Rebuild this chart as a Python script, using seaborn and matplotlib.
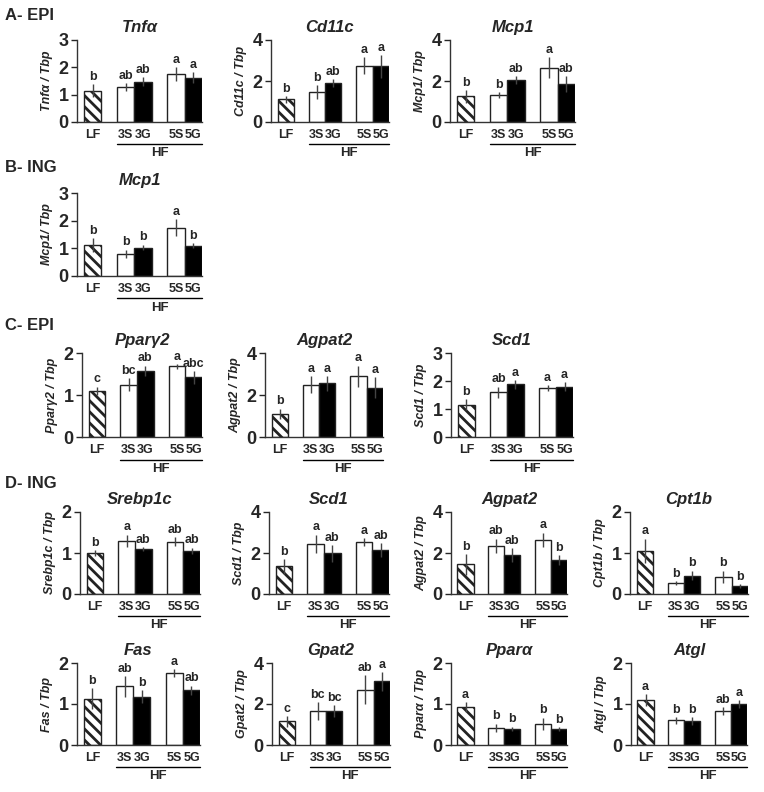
import numpy as np
import matplotlib
matplotlib.use("Agg")
import matplotlib.pyplot as plt
import matplotlib.transforms as mtransforms
import seaborn as sns

sns.set_style("white")
plt.rcParams['font.family'] = ['Liberation Sans', 'DejaVu Sans']
plt.rcParams['hatch.linewidth'] = 2.0

# groups and where they sit on the x axis
groups = ['LF', '3S', '3G', '5S', '5G']
group_x = [0.0, 1.9, 2.9, 4.8, 5.8]

# A - EPI
tnfa_mean = [1.15, 1.28, 1.48, 1.75, 1.62]
tnfa_err = [0.25, 0.15, 0.15, 0.25, 0.20]
tnfa_sig = ['b', 'ab', 'ab', 'a', 'a']

cd11c_mean = [1.10, 1.45, 1.90, 2.75, 2.72]
cd11c_err = [0.15, 0.35, 0.20, 0.40, 0.55]
cd11c_sig = ['b', 'b', 'ab', 'a', 'a']

mcp1_epi_mean = [1.25, 1.30, 2.05, 2.65, 1.85]
mcp1_epi_err = [0.30, 0.15, 0.20, 0.50, 0.40]
mcp1_epi_sig = ['b', 'b', 'ab', 'a', 'ab']

# B - ING
mcp1_ing_mean = [1.12, 0.80, 1.03, 1.75, 1.10]
mcp1_ing_err = [0.25, 0.15, 0.10, 0.30, 0.10]
mcp1_ing_sig = ['b', 'b', 'b', 'a', 'b']

# C - EPI
pparg2_mean = [1.10, 1.25, 1.58, 1.68, 1.42]
pparg2_err = [0.10, 0.15, 0.12, 0.05, 0.15]
pparg2_sig = ['c', 'bc', 'ab', 'a', 'abc']

agpat2_epi_mean = [1.10, 2.50, 2.55, 2.90, 2.35]
agpat2_epi_err = [0.25, 0.40, 0.35, 0.50, 0.50]
agpat2_epi_sig = ['b', 'a', 'a', 'a', 'a']

scd1_epi_mean = [1.15, 1.60, 1.88, 1.75, 1.80]
scd1_epi_err = [0.20, 0.20, 0.15, 0.10, 0.15]
scd1_epi_sig = ['b', 'ab', 'a', 'a', 'a']

# D - ING
srebp1c_mean = [1.00, 1.30, 1.10, 1.28, 1.05]
srebp1c_err = [0.07, 0.15, 0.05, 0.10, 0.08]
srebp1c_sig = ['b', 'a', 'ab', 'ab', 'ab']

scd1_ing_mean = [1.35, 2.45, 1.98, 2.52, 2.15]
scd1_ing_err = [0.35, 0.45, 0.40, 0.20, 0.35]
scd1_ing_sig = ['b', 'a', 'ab', 'a', 'ab']

agpat2_ing_mean = [1.45, 2.35, 1.90, 2.65, 1.65]
agpat2_ing_err = [0.50, 0.35, 0.35, 0.35, 0.25]
agpat2_ing_sig = ['b', 'ab', 'ab', 'a', 'b']

cpt1b_mean = [1.05, 0.27, 0.45, 0.42, 0.20]
cpt1b_err = [0.30, 0.05, 0.12, 0.15, 0.05]
cpt1b_sig = ['a', 'b', 'b', 'b', 'b']

fas_mean = [1.13, 1.43, 1.18, 1.76, 1.33]
fas_err = [0.25, 0.25, 0.15, 0.10, 0.12]
fas_sig = ['b', 'ab', 'b', 'a', 'ab']

gpat2_mean = [1.15, 1.65, 1.65, 2.70, 3.10]
gpat2_err = [0.25, 0.45, 0.30, 0.70, 0.45]
gpat2_sig = ['c', 'bc', 'bc', 'ab', 'a']

ppara_mean = [0.92, 0.42, 0.40, 0.52, 0.38]
ppara_err = [0.12, 0.10, 0.05, 0.15, 0.05]
ppara_sig = ['a', 'b', 'b', 'b', 'b']

atgl_mean = [1.10, 0.60, 0.58, 0.83, 1.00]
atgl_err = [0.15, 0.08, 0.10, 0.10, 0.10]
atgl_sig = ['a', 'b', 'b', 'ab', 'a']

W, H = 764, 792


def px_rect(x, top, w, bottom):
    return [x / W, 1 - bottom / H, w / W, (bottom - top) / H]


def draw_panel(rect, title, ylab, ymax, ystep, mean, err, sig):
    ax = fig.add_axes(rect)
    sns.barplot(x=group_x, y=mean, native_scale=True, width=1.0, ax=ax,
                color='white', edgecolor='#222222', linewidth=1.0, errorbar=None)
    for i, patch in enumerate(ax.patches):
        if groups[i] == 'LF':
            patch.set_facecolor('white')
            patch.set_hatch('\\\\\\')
        elif groups[i].endswith('G'):
            patch.set_facecolor('black')
        else:
            patch.set_facecolor('white')
    ax.errorbar(group_x, mean, yerr=err, fmt='none', ecolor='#444444',
                elinewidth=1.0, capsize=0, zorder=5)
    for xx, m, e, s in zip(group_x, mean, err, sig):
        ax.text(xx, m + e + ymax * 0.015, s, ha='center', va='bottom',
                fontsize=9, fontweight='bold')
    ax.set_xlim(-0.9, 6.3)
    ax.set_ylim(0, ymax)
    ax.set_yticks(np.arange(0, ymax + 0.01, ystep))
    ax.set_yticklabels([f'{int(v)}' for v in np.arange(0, ymax + 0.01, ystep)],
                       fontsize=13, fontweight='bold')
    ax.set_xticks(group_x)
    ax.set_xticklabels(groups, fontsize=9, fontweight='bold')
    ax.tick_params(axis='x', length=0, pad=5)
    ax.tick_params(axis='y', length=4, width=1, direction='out', left=True, pad=2)
    sns.despine(ax=ax)
    for sp in ['left', 'bottom']:
        ax.spines[sp].set_color('#333333')
        ax.spines[sp].set_linewidth(1.0)
    ax.set_title(title, fontsize=12, fontweight='bold', style='italic', pad=6)
    ax.set_ylabel(ylab, fontsize=9, fontweight='bold', style='italic', labelpad=4)
    ax.set_xlabel('')
    # HF bracket under the high-fat groups
    trans = mtransforms.blended_transform_factory(ax.transData, ax.transAxes)
    x0, x1 = group_x[1] - 0.5, group_x[-1] + 0.5
    ax.plot([x0, x1], [-0.27, -0.27], color='black', lw=1.0,
            transform=trans, clip_on=False)
    ax.text((x0 + x1) / 2, -0.38, 'HF', transform=trans, ha='center',
            va='center', fontsize=9.5, fontweight='bold')
    return ax


fig = plt.figure(figsize=(W / 100, H / 100), dpi=100)

# section labels
for lab, yy in [('A- EPI', 15), ('B- ING', 167), ('C- EPI', 325), ('D- ING', 483)]:
    fig.text(5 / W, 1 - yy / H, lab, fontsize=12, fontweight='bold', va='center')

# A
draw_panel(px_rect(77, 40, 125, 122), 'Tnfα', 'Tnfα / Tbp', 3, 1, tnfa_mean, tnfa_err, tnfa_sig)
draw_panel(px_rect(271, 40, 118, 122), 'Cd11c', 'Cd11c / Tbp', 4, 2, cd11c_mean, cd11c_err, cd11c_sig)
draw_panel(px_rect(450, 40, 125, 122), 'Mcp1', 'Mcp1/ Tbp', 4, 2, mcp1_epi_mean, mcp1_epi_err, mcp1_epi_sig)

# B
draw_panel(px_rect(77, 193, 125, 276), 'Mcp1', 'Mcp1/ Tbp', 3, 1, mcp1_ing_mean, mcp1_ing_err, mcp1_ing_sig)

# C
draw_panel(px_rect(82, 353, 120, 437), 'Pparγ2', 'Pparγ2 / Tbp', 2, 1, pparg2_mean, pparg2_err, pparg2_sig)
draw_panel(px_rect(265, 353, 118, 437), 'Agpat2', 'Agpat2 / Tbp', 4, 2, agpat2_epi_mean, agpat2_epi_err, agpat2_epi_sig)
draw_panel(px_rect(451, 353, 122, 437), 'Scd1', 'Scd1 / Tbp', 3, 1, scd1_epi_mean, scd1_epi_err, scd1_epi_sig)

# D row 1
draw_panel(px_rect(80, 512, 120, 594), 'Srebp1c', 'Srebp1c / Tbp', 2, 1, srebp1c_mean, srebp1c_err, srebp1c_sig)
draw_panel(px_rect(269, 512, 120, 594), 'Scd1', 'Scd1 / Tbp', 4, 2, scd1_ing_mean, scd1_ing_err, scd1_ing_sig)
draw_panel(px_rect(451, 512, 116, 594), 'Agpat2', 'Agpat2 / Tbp', 4, 2, agpat2_ing_mean, agpat2_ing_err, agpat2_ing_sig)
draw_panel(px_rect(630, 512, 118, 594), 'Cpt1b', 'Cpt1b / Tbp', 2, 1, cpt1b_mean, cpt1b_err, cpt1b_sig)

# D row 2
draw_panel(px_rect(77, 663, 123, 745), 'Fas', 'Fas / Tbp', 2, 1, fas_mean, fas_err, fas_sig)
draw_panel(px_rect(272, 663, 118, 745), 'Gpat2', 'Gpat2 / Tbp', 4, 2, gpat2_mean, gpat2_err, gpat2_sig)
draw_panel(px_rect(451, 663, 116, 745), 'Pparα', 'Pparα / Tbp', 2, 1, ppara_mean, ppara_err, ppara_sig)
draw_panel(px_rect(631, 663, 116, 745), 'Atgl', 'Atgl / Tbp', 2, 1, atgl_mean, atgl_err, atgl_sig)

fig.savefig('out.png', dpi=100)
